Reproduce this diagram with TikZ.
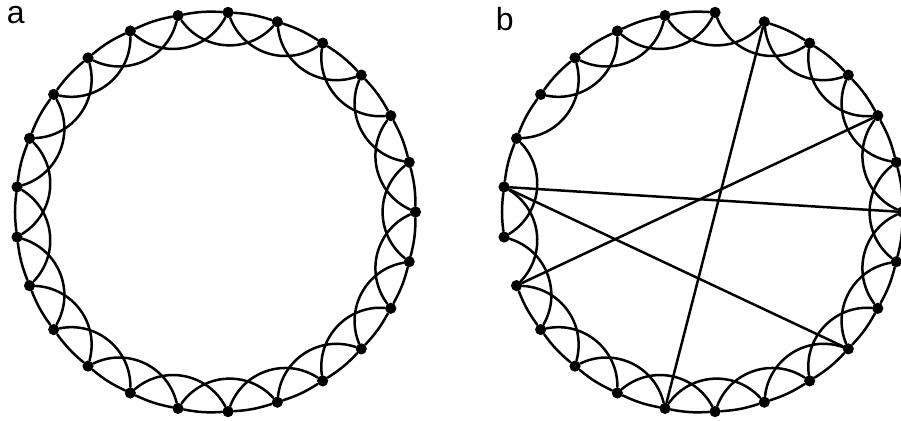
\documentclass[tikz,border=0pt]{standalone}
\usepackage{fontspec}
\setmainfont{Liberation Sans}
\begin{document}
\begin{tikzpicture}[x=0.5pt,y=-0.5pt,
  dot/.style={circle,fill=black,inner sep=0pt,minimum size=5.6pt},
  edge/.style={line width=1.25pt,line cap=round},
  near/.style={edge,bend right=7},
  far/.style={edge,bend left=51,looseness=1.05},
  lbl/.style={font=\fontsize{16pt}{18pt}\selectfont,inner sep=0pt}]
\useasboundingbox (0,0) rectangle (901,421);
\foreach \k in {0,...,24}{
  \node[dot] (a\k) at ({215.5+200*cos(\k*14.4)},{212-200*sin(\k*14.4)}) {};
  \node[dot] (b\k) at ({702.5+200*cos(\k*14.4)},{212-200*sin(\k*14.4)}) {};
}
% panel a: regular ring lattice
\foreach \k in {0,...,24}{
  \pgfmathtruncatemacro\n{mod(\k+1,25)}
  \pgfmathtruncatemacro\m{mod(\k+2,25)}
  \draw[near] (a\k) to (a\n);
  \draw[far] (a\k) to (a\m);
}
% panel b: rewired
\foreach \i/\j in {0/1,1/2,2/3,3/4,4/5,6/7,7/8,8/9,9/10,10/11,11/12,12/13,14/15,15/16,16/17,17/18,18/19,19/20,20/21,21/22,22/23,23/24,24/0}
  \draw[near] (b\i) to (b\j);
\foreach \i/\j in {0/2,1/3,2/4,3/5,4/6,5/7,6/8,7/9,8/10,9/11,11/13,12/14,13/15,14/16,15/17,16/18,17/19,18/20,19/21,20/22,21/23,22/24,23/0,24/1}
  \draw[far] (b\i) to (b\j);
\foreach \i/\j in {5/18,2/14,12/0,12/22}
  \draw[edge] (b\i) -- (b\j);
\node[lbl,anchor=base west] (la) at (6.5,24) {a};
\node[lbl,anchor=base west] (lb) at (495.5,30.7) {b};
\end{tikzpicture}
\end{document}
